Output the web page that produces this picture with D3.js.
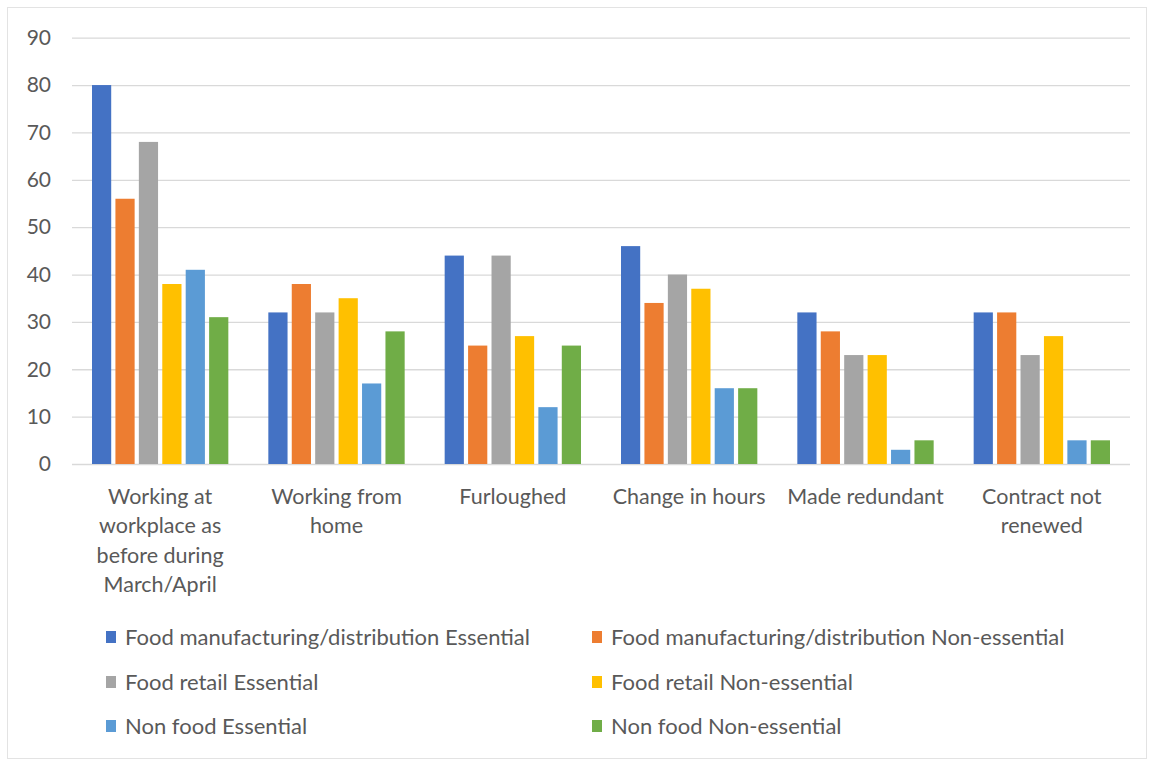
<!DOCTYPE html>
<html><head><meta charset="utf-8">
<script src="https://cdn.jsdelivr.net/npm/d3@7"></script>
<style>
body{margin:0;background:#fff;}
svg text{font-family:Lato,"Open Sans",sans-serif;fill:#595959;}
</style></head>
<body><svg id="c" width="1154" height="760"></svg>
<script>
const categories = [
  ["Working at","workplace as","before during","March/April"],
  ["Working from","home"],
  ["Furloughed"],
  ["Change in hours"],
  ["Made redundant"],
  ["Contract not","renewed"]
];
const seriesNames = [
  "Food manufacturing/distribution Essential",
  "Food manufacturing/distribution Non-essential",
  "Food retail Essential",
  "Food retail Non-essential",
  "Non food Essential",
  "Non food Non-essential"
];
const foodMfgEssential    = [80, 32, 44, 46, 32, 32];
const foodMfgNonEssential = [56, 38, 25, 34, 28, 32];
const foodRetailEssential = [68, 32, 44, 40, 23, 23];
const foodRetailNonEss    = [38, 35, 27, 37, 23, 27];
const nonFoodEssential    = [41, 17, 12, 16, 3, 5];
const nonFoodNonEss       = [31, 28, 25, 16, 5, 5];
const yTicks = [0,10,20,30,40,50,60,70,80,90];
const colors = ["#4472C4","#ED7D31","#A5A5A5","#FFC000","#5B9BD5","#70AD47"];

const values = [foodMfgEssential, foodMfgNonEssential, foodRetailEssential, foodRetailNonEss, nonFoodEssential, nonFoodNonEss];

const svg = d3.select("#c");
svg.append("rect").attr("x",7.5).attr("y",7.5).attr("width",1139).attr("height",751)
  .attr("fill","none").attr("stroke","#e3e3e3").attr("stroke-width",1);

const pL = 72, pR = 1130, pT = 37.7, pB = 464;
const y = d3.scaleLinear().domain([0,90]).range([pB, pT]);
const x0 = d3.scaleBand().domain(d3.range(categories.length)).range([pL,pR]).padding(0);
const gpad = 20;
const x1 = d3.scaleBand().domain(d3.range(seriesNames.length))
  .range([gpad, x0.bandwidth()-gpad]).paddingInner(0.18).paddingOuter(0);

const yAxis = d3.axisLeft(y).tickValues(yTicks).tickSize(-(pR-pL)).tickPadding(21);
const ga = svg.append("g").attr("transform",`translate(${pL},0)`).call(yAxis);
ga.select(".domain").remove();
ga.selectAll(".tick line").attr("stroke","#d9d9d9").attr("stroke-width",1.3);
ga.selectAll(".tick text").style("font-size","21px").attr("fill","#595959");

const groups = svg.append("g").selectAll("g").data(categories).join("g")
  .attr("transform",(d,i)=>`translate(${x0(i)},0)`);
groups.selectAll("rect").data((d,i)=>values.map((s,j)=>({j,v:s[i]}))).join("rect")
  .attr("x",d=>x1(d.j)).attr("width",x1.bandwidth())
  .attr("y",d=>y(d.v)).attr("height",d=>y(0)-y(d.v))
  .attr("fill",d=>colors[d.j]);

const cl = svg.append("g").selectAll("text").data(categories).join("text")
  .attr("x",(d,i)=>x0(i)+x0.bandwidth()/2).attr("y",503.5)
  .attr("text-anchor","middle").style("font-size","21.5px");
cl.selectAll("tspan").data(d=>d).join("tspan")
  .attr("x",function(){return this.parentNode.getAttribute("x");})
  .attr("dy",(d,k)=>k===0?0:29.5).text(d=>d);

const legX = [106, 592], legY = [637, 682, 726];
const lg = svg.append("g").selectAll("g").data(seriesNames).join("g")
  .attr("transform",(d,i)=>`translate(${legX[i%2]},${legY[Math.floor(i/2)]})`);
lg.append("rect").attr("x",0).attr("y",-6).attr("width",10).attr("height",12).attr("fill",(d,i)=>colors[i]);
lg.append("text").attr("x",19).attr("y",0).attr("dy","0.35em").style("font-size","22px").text(d=>d);
</script></body></html>
